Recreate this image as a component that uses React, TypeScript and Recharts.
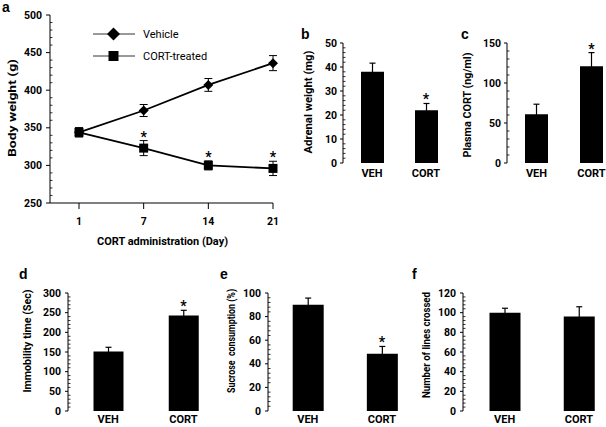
import React from 'react';
import {
  LineChart,
  ComposedChart,
  Line,
  Bar,
  XAxis,
  YAxis,
  ErrorBar,
  LabelList,
  Legend,
  Label,
} from 'recharts';

const FONT = 'Roboto, "Open Sans", sans-serif';
const LETTER_FONT = '"Liberation Sans", Arial, sans-serif';

// ---------- data: panel a (body weight) ----------
const days = ['1', '7', '14', '21'];
const vehicleWeight = [344, 373, 407, 436];
const vehicleWeightErr = [6, 8, 8.5, 10];
const cortWeight = [344, 323, 300, 296];
const cortWeightErr = [6, 10, 6, 9.5];
const cortWeightSig = ['', '*', '*', '*'];
const seriesOrder = ['vehicle', 'cort'];

// ---------- data: bar panels ----------
const groups = ['VEH', 'CORT'];
const adrenalWeight = [38, 22];
const adrenalWeightErr = [3.6, 2.8];
const adrenalSig = ['', '*'];
const plasmaCort = [61, 121];
const plasmaCortErr = [12.5, 17];
const plasmaSig = ['', '*'];
const immobilityTime = [151, 243];
const immobilityErr = [11, 13];
const immobilitySig = ['', '*'];
const sucrosePct = [90, 48.5];
const sucroseErr = [5.7, 6.2];
const sucroseSig = ['', '*'];
const linesCrossed = [100, 96];
const linesCrossedErr = [4.5, 10];
const linesCrossedSig = ['', ''];

// ---------- tick labels (major ticks) ----------
const weightTicks = [250, 300, 350, 400, 450, 500];
const adrenalTicks = [0, 10, 20, 30, 40, 50];
const plasmaTicks = [0, 50, 100, 150];
const immobilityTicks = [0, 50, 100, 150, 200, 250, 300];
const sucroseTicks = [0, 20, 40, 60, 80, 100];
const linesTicks = [0, 20, 40, 60, 80, 100, 120];

// major ticks plus Excel-style minor ticks (major unit / 5)
function withMinor(majors: number[]): number[] {
  const step = (majors[1] - majors[0]) / 5;
  const out: number[] = [];
  const n = Math.round((majors[majors.length - 1] - majors[0]) / step);
  for (let i = 0; i <= n; i++) out.push(majors[0] + i * step);
  return out;
}

const weightData = days.map((d, i) => ({
  day: d,
  vehicle: vehicleWeight[i],
  vehicleErr: vehicleWeightErr[i],
  cort: cortWeight[i],
  cortErr: cortWeightErr[i],
  cortTop: cortWeight[i] + cortWeightErr[i],
  cortSig: cortWeightSig[i],
}));

function barData(values: number[], errs: number[], sig: string[]) {
  return groups.map((g, i) => ({
    group: g,
    value: values[i],
    err: errs[i],
    top: values[i] + errs[i],
    sig: sig[i],
  }));
}

const adrenalData = barData(adrenalWeight, adrenalWeightErr, adrenalSig);
const plasmaData = barData(plasmaCort, plasmaCortErr, plasmaSig);
const immobilityData = barData(immobilityTime, immobilityErr, immobilitySig);
const sucroseData = barData(sucrosePct, sucroseErr, sucroseSig);
const linesData = barData(linesCrossed, linesCrossedErr, linesCrossedSig);

// ---------- helpers ----------
const yTick = (majors: number[], gap: number, majorLen: number) => (props: any) => {
  const { x, y, payload } = props;
  const v = payload.value;
  const isMajor = majors.indexOf(v) >= 0;
  return (
    <g>
      {isMajor ? (
        <line x1={x - majorLen} x2={x} y1={y} y2={y} stroke="#000" strokeWidth={1} />
      ) : (
        <line x1={x} x2={x + 2.5} y1={y} y2={y} stroke="#000" strokeWidth={0.8} />
      )}
      {isMajor && (
        <text
          x={x - gap}
          y={y}
          textAnchor="end"
          dominantBaseline="central"
          fontFamily={FONT}
          fontSize={10.5}
          fontWeight={700}
          fill="#000"
        >
          {v}
        </text>
      )}
    </g>
  );
};

const vTitle = (text: string, cx: number, shift: number, len: number, fs: number) => (props: any) => {
  const vb = props.viewBox || { x: 0, y: 0, width: 0, height: 0 };
  const x = vb.x + cx;
  const y = vb.y + vb.height / 2 + shift;
  return (
    <text
      x={x}
      y={y}
      transform={`rotate(-90 ${x} ${y})`}
      textAnchor="middle"
      dominantBaseline="central"
      fontFamily={FONT}
      fontSize={fs}
      fontWeight={700}
      fill="#000"
      textLength={len}
      lengthAdjust="spacingAndGlyphs"
      style={{ whiteSpace: 'pre' }}
    >
      {text}
    </text>
  );
};

const hTitle = (text: string, dy: number, len: number) => (props: any) => {
  const vb = props.viewBox || { x: 0, y: 0, width: 0, height: 0 };
  const x = vb.x + vb.width / 2 + 1;
  const y = vb.y + dy;
  return (
    <text
      x={x}
      y={y}
      textAnchor="middle"
      dominantBaseline="central"
      fontFamily={FONT}
      fontSize={11}
      fontWeight={700}
      fill="#000"
      textLength={len}
      lengthAdjust="spacingAndGlyphs"
    >
      {text}
    </text>
  );
};

const DiamondDot = (p: any) => {
  const { cx, cy } = p;
  if (cx == null || cy == null) return <g />;
  const r = 5;
  return (
    <polygon
      points={`${cx},${cy - r} ${cx + r},${cy} ${cx},${cy + r} ${cx - r},${cy}`}
      fill="#000"
    />
  );
};

const SquareDot = (p: any) => {
  const { cx, cy } = p;
  if (cx == null || cy == null) return <g />;
  return <rect x={cx - 4.5} y={cy - 4.5} width={9} height={9} fill="#000" />;
};

const WeightLegend = (props: any) => {
  const items = (props.payload || [])
    .filter((e: any) => e.type !== 'none' && seriesOrder.indexOf(e.dataKey) >= 0)
    .slice()
    .sort((a: any, b: any) => seriesOrder.indexOf(a.dataKey) - seriesOrder.indexOf(b.dataKey));
  return (
    <div style={{ fontFamily: FONT, fontSize: 11, color: '#000' }}>
      {items.map((e: any, i: number) => (
        <div key={i} style={{ display: 'flex', alignItems: 'center', height: 22 }}>
          <svg width={42} height={16} style={{ display: 'block' }}>
            <line x1={0} x2={42} y1={8} y2={8} stroke="#333" strokeWidth={1} />
            {e.dataKey === 'vehicle' ? (
              <polygon points="20.5,1.5 27,8 20.5,14.5 14,8" fill="#000" />
            ) : (
              <rect x={15.5} y={3} width={10} height={10} fill="#000" />
            )}
          </svg>
          <span style={{ marginLeft: 8, whiteSpace: 'nowrap' }}>{e.value}</span>
        </div>
      ))}
    </div>
  );
};

const catTick = { fill: '#000', fontSize: 11, fontWeight: 700, fontFamily: FONT };

type BarPanelProps = {
  left: number;
  top: number;
  width: number;
  height: number;
  marginTop: number;
  axisWidth: number;
  xHeight: number;
  padLeft: number;
  tickMargin: number;
  data: any[];
  majors: number[];
  barSize: number;
  title: string;
  titleX: number;
  titleShift: number;
  titleLen: number;
  titleSize: number;
  gap: number;
};

function BarPanel(p: BarPanelProps) {
  const maxV = p.majors[p.majors.length - 1];
  return (
    <div style={{ position: 'absolute', left: p.left, top: p.top }}>
      <ComposedChart
        width={p.width}
        height={p.height}
        data={p.data}
        margin={{ top: p.marginTop, right: 0, bottom: 0, left: 0 }}
      >
        <XAxis
          dataKey="group"
          padding={{ left: p.padLeft, right: 0 }}
          axisLine={false}
          tickLine={false}
          tickSize={0}
          tickMargin={p.tickMargin}
          height={p.xHeight}
          tick={catTick}
          interval={0}
        />
        <YAxis
          domain={[p.majors[0], maxV]}
          ticks={withMinor(p.majors)}
          interval={0}
          width={p.axisWidth}
          tickSize={0}
          tickMargin={0}
          tickLine={false}
          axisLine={{ stroke: '#000' }}
          tick={yTick(p.majors, p.gap, 3)}
          allowDataOverflow
        >
          <Label content={vTitle(p.title, p.titleX, p.titleShift, p.titleLen, p.titleSize)} />
        </YAxis>
        <Bar dataKey="value" fill="#000" barSize={p.barSize} isAnimationActive={false}>
          <ErrorBar dataKey="err" width={3} stroke="#000" strokeWidth={1.2} />
        </Bar>
        <Line
          dataKey="top"
          stroke="none"
          dot={false}
          activeDot={false}
          legendType="none"
          isAnimationActive={false}
        >
          <LabelList
            dataKey="sig"
            position="top"
            offset={-1}
            fill="#000"
            fontSize={14}
            fontWeight={700}
            fontFamily={FONT}
          />
        </Line>
      </ComposedChart>
    </div>
  );
}

export default function App() {
  return (
    <div
      style={{
        position: 'absolute',
        left: 0,
        top: 0,
        width: 606,
        height: 427,
        overflow: 'hidden',
        background: '#fff',
      }}
    >
      {/* panel a */}
      <div style={{ position: 'absolute', left: 0, top: 0 }}>
        <LineChart
          width={290}
          height={250}
          data={weightData}
          margin={{ top: 15, right: 17, bottom: 0, left: 0 }}
        >
          <XAxis
            dataKey="day"
            scale="point"
            padding={{ left: 29, right: 0 }}
            height={47}
            tickSize={6}
            tickMargin={9}
            axisLine={{ stroke: '#000' }}
            tickLine={{ stroke: '#000' }}
            tick={{ fill: '#000', fontSize: 10.5, fontWeight: 700, fontFamily: FONT }}
            interval={0}
          >
            <Label content={hTitle('CORT administration (Day)', 38.7, 131)} />
          </XAxis>
          <YAxis
            domain={[250, 500]}
            ticks={withMinor(weightTicks)}
            interval={0}
            width={50}
            tickSize={0}
            tickMargin={0}
            tickLine={false}
            axisLine={{ stroke: '#000' }}
            tick={yTick(weightTicks, 8, 4)}
            allowDataOverflow
          >
            <Label content={vTitle('Body weight (g)', 12, -1, 98, 11.5)} />
          </YAxis>
          <Legend
            content={WeightLegend}
            layout="vertical"
            align="center"
            verticalAlign="middle"
            wrapperStyle={{ left: 93, top: 23, width: 160, height: 44 }}
          />
          <Line
            dataKey="vehicle"
            name="Vehicle"
            stroke="#000"
            strokeWidth={1.8}
            dot={DiamondDot}
            activeDot={false}
            isAnimationActive={false}
          >
            <ErrorBar dataKey="vehicleErr" width={4} stroke="#000" strokeWidth={1} />
          </Line>
          <Line
            dataKey="cort"
            name="CORT-treated"
            stroke="#000"
            strokeWidth={1.8}
            dot={SquareDot}
            activeDot={false}
            isAnimationActive={false}
          >
            <ErrorBar dataKey="cortErr" width={4} stroke="#000" strokeWidth={1} />
          </Line>
          <Line
            dataKey="cortTop"
            stroke="none"
            dot={false}
            activeDot={false}
            legendType="none"
            isAnimationActive={false}
          >
            <LabelList
              dataKey="cortSig"
              position="top"
              offset={-1}
              fill="#000"
              fontSize={14}
              fontWeight={700}
              fontFamily={FONT}
            />
          </Line>
        </LineChart>
      </div>

      {/* panel b */}
      <BarPanel
        left={290}
        top={0}
        width={163}
        height={193}
        marginTop={43}
        axisWidth={53}
        xHeight={30}
        padLeft={2}
        tickMargin={6}
        data={adrenalData}
        majors={adrenalTicks}
        barSize={23}
        title="Adrenal weight (mg)"
        titleX={18}
        titleShift={-1}
        titleLen={103}
        titleSize={11.5}
        gap={6}
      />
      {/* panel c */}
      <BarPanel
        left={460}
        top={0}
        width={159}
        height={193}
        marginTop={43}
        axisWidth={47}
        xHeight={30}
        padLeft={2}
        tickMargin={6}
        data={plasmaData}
        majors={plasmaTicks}
        barSize={23}
        title="Plasma CORT (ng/ml)"
        titleX={7}
        titleShift={2}
        titleLen={105}
        titleSize={11.5}
        gap={6}
      />
      {/* panel d */}
      <BarPanel
        left={0}
        top={260}
        width={221}
        height={167}
        marginTop={33}
        axisWidth={68}
        xHeight={16}
        padLeft={2.5}
        tickMargin={4.5}
        data={immobilityData}
        majors={immobilityTicks}
        barSize={30}
        title="Immobility time (Sec)"
        titleX={27}
        titleShift={-11}
        titleLen={103}
        titleSize={11.5}
        gap={7}
      />
      {/* panel e */}
      <BarPanel
        left={215}
        top={260}
        width={204}
        height={167}
        marginTop={33}
        axisWidth={53}
        xHeight={16}
        padLeft={2.7}
        tickMargin={4.5}
        data={sucroseData}
        majors={sucroseTicks}
        barSize={31}
        title="Sucrose  consumption (%)"
        titleX={16.7}
        titleShift={-11}
        titleLen={104}
        titleSize={10}
        gap={7}
      />
      {/* panel f */}
      <BarPanel
        left={410}
        top={260}
        width={206}
        height={167}
        marginTop={33}
        axisWidth={53}
        xHeight={16}
        padLeft={4.5}
        tickMargin={4.5}
        data={linesData}
        majors={linesTicks}
        barSize={31}
        title="Number of lines crossed"
        titleX={16.7}
        titleShift={-7}
        titleLen={106}
        titleSize={11}
        gap={7}
      />

      {/* panel letters */}
      <svg
        width={606}
        height={427}
        style={{ position: 'absolute', left: 0, top: 0, pointerEvents: 'none' }}
      >
        <g fontFamily={LETTER_FONT} fontWeight={700} fontSize={14} fill="#000">
          <text x={2} y={12}>a</text>
          <text x={301} y={39}>b</text>
          <text x={461} y={39}>c</text>
          <text x={19} y={279}>d</text>
          <text x={220} y={279}>e</text>
          <text x={412} y={279}>f</text>
        </g>
      </svg>
    </div>
  );
}
